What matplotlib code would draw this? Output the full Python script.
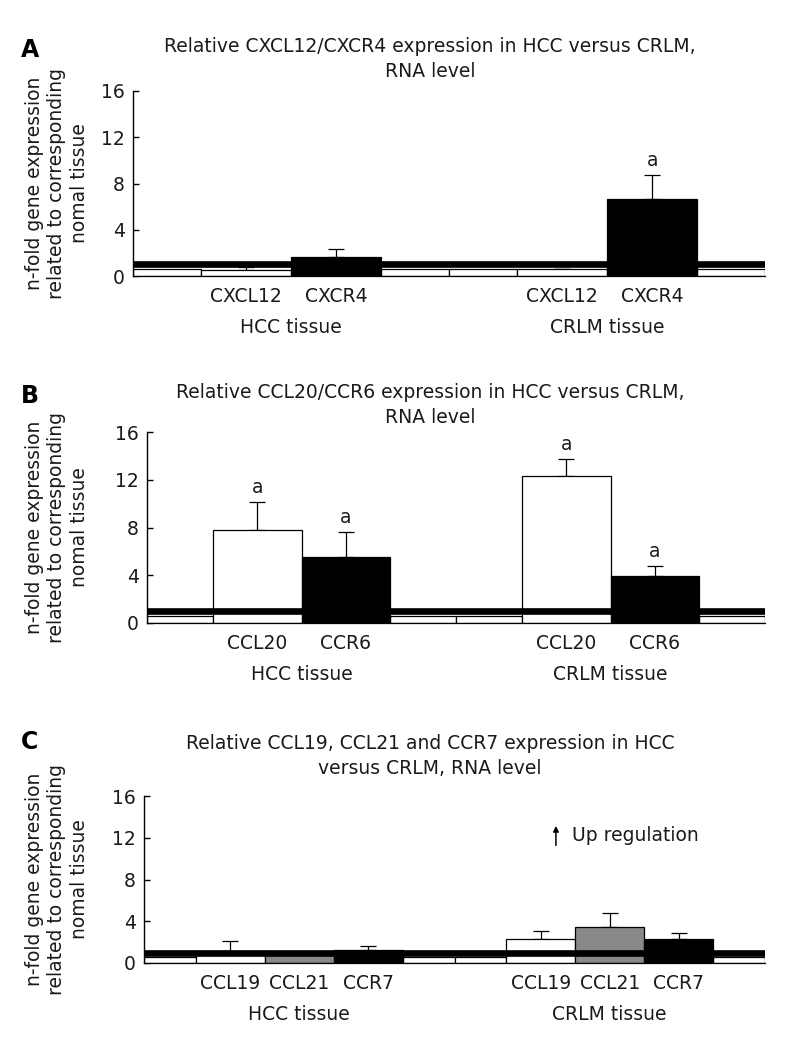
import numpy as np
import matplotlib
matplotlib.use("Agg")
import matplotlib.pyplot as plt
from matplotlib.patches import Rectangle

plt.rcParams['font.family'] = 'DejaVu Sans'

###
# Data
###

groups = ["HCC tissue", "CRLM tissue"]
ylabel = "n-fold gene expression\nrelated to corresponding\nnomal tissue"

# panel A
genes_a = ["CXCL12", "CXCR4"]
colors_a = ["white", "black"]
hcc_a = [0.5, 1.65]
hcc_err_a = [0.3, 0.7]
crlm_a = [0.6, 6.7]
crlm_err_a = [0.0, 2.0]
hcc_sig_a = [False, False]
crlm_sig_a = [False, True]
title_a = "Relative CXCL12/CXCR4 expression in HCC versus CRLM,\nRNA level"

# panel B
genes_b = ["CCL20", "CCR6"]
colors_b = ["white", "black"]
hcc_b = [7.8, 5.5]
hcc_err_b = [2.3, 2.1]
crlm_b = [12.3, 3.9]
crlm_err_b = [1.4, 0.85]
hcc_sig_b = [True, True]
crlm_sig_b = [True, True]
title_b = "Relative CCL20/CCR6 expression in HCC versus CRLM,\nRNA level"

# panel C
genes_c = ["CCL19", "CCL21", "CCR7"]
colors_c = ["white", "#888888", "black"]
hcc_c = [1.15, 0.9, 1.2]
hcc_err_c = [0.95, 0.0, 0.45]
crlm_c = [2.3, 3.45, 2.3]
crlm_err_c = [0.8, 1.35, 0.55]
hcc_sig_c = [False, False, False]
crlm_sig_c = [False, False, False]
title_c = "Relative CCL19, CCL21 and CCR7 expression in HCC\nversus CRLM, RNA level"

GAP = 0.75     # empty slot at each end of a group (in bar widths)
STRIP = 0.6    # height of the empty white slots
FS = 13.5
TXT = '#1a1a1a'

W, H = 800, 1055
fig = plt.figure(figsize=(W / 100, H / 100), dpi=100)


def px_axes(left, right, top, bottom):
    # axes rect from pixel coords of the reference
    return fig.add_axes([left / W, 1 - bottom / H, (right - left) / W, (bottom - top) / H])


def draw_panel(ax, genes, colors, vals, errs, sigs, title, letter, title_y, letter_y):
    n = len(genes)
    span = n + 2 * GAP
    centers = []
    for g in range(2):
        x0 = g * span
        # white empty slots at the start and end of each group
        for xs in (x0, x0 + GAP + n):
            ax.add_patch(Rectangle((xs, 0), GAP, STRIP, facecolor='white',
                                   edgecolor='black', lw=0.9, zorder=2))
        xc = x0 + GAP + 0.5 + np.arange(n)
        ax.bar(xc, vals[g], width=1, color=colors, edgecolor='black', lw=0.9, zorder=2)
        ax.errorbar(xc, vals[g], yerr=[np.zeros(n), errs[g]], fmt='none', ecolor='black',
                    elinewidth=0.9, capsize=6, capthick=0.9, zorder=1)
        for x, v, e, s in zip(xc, vals[g], errs[g], sigs[g]):
            if s:
                ax.text(x, v + e + 0.45, "a", ha='center', va='bottom', fontsize=FS, color=TXT)
        # group label
        ax.annotate(groups[g], xy=(x0 + span / 2, 0), xycoords=('data', 'axes fraction'),
                    xytext=(0, -37), textcoords='offset points', ha='center', va='center',
                    fontsize=FS, color=TXT)
        centers.extend(xc)

    # reference line at 1 (normal tissue)
    ax.axhline(1, color='black', lw=4.8, zorder=3)

    ax.set_xlim(0, 2 * span)
    ax.set_ylim(0, 16)
    ax.set_yticks([0, 4, 8, 12, 16])
    ax.set_xticks(centers)
    ax.set_xticklabels(genes * 2, fontsize=FS, color=TXT)
    ax.tick_params(axis='x', length=0, pad=8)
    ax.tick_params(axis='y', direction='in', length=4, width=1, labelsize=FS, pad=6,
                   labelcolor=TXT)
    for side in ('top', 'right'):
        ax.spines[side].set_visible(False)
    ax.spines['left'].set_linewidth(1)
    ax.spines['bottom'].set_linewidth(0.9)

    # y label and titles in figure pixels
    bb = ax.get_position()
    fig.text(57 / W, (bb.y0 + bb.y1) / 2, ylabel, rotation=90, ha='center', va='center',
             fontsize=FS, multialignment='center', linespacing=1.22, color=TXT)
    fig.text(430 / W, 1 - title_y / H, title, ha='center', va='center',
             fontsize=FS, multialignment='center', linespacing=1.38, color=TXT)
    fig.text(30 / W, 1 - letter_y / H, letter, ha='center', va='center',
             fontsize=17, fontweight='bold', color='black')
    return ax


ax_a = px_axes(133, 765, 91, 276)
draw_panel(ax_a, genes_a, colors_a, [hcc_a, crlm_a], [hcc_err_a, crlm_err_a],
           [hcc_sig_a, crlm_sig_a], title_a, "A", 59, 50)

ax_b = px_axes(147, 765, 432, 623)
draw_panel(ax_b, genes_b, colors_b, [hcc_b, crlm_b], [hcc_err_b, crlm_err_b],
           [hcc_sig_b, crlm_sig_b], title_b, "B", 405, 396)

ax_c = px_axes(144, 765, 796, 963)
draw_panel(ax_c, genes_c, colors_c, [hcc_c, crlm_c], [hcc_err_c, crlm_err_c],
           [hcc_sig_c, crlm_sig_c], title_c, "C", 756, 742)

# up-regulation legend in panel C
ax_c.annotate("", xy=(5.97, 13.4), xytext=(5.97, 11.0),
              arrowprops=dict(arrowstyle='-|>', color='black', lw=1.1, mutation_scale=8))
ax_c.text(6.2, 12.25, "Up regulation", ha='left', va='center', fontsize=FS, color=TXT)

plt.savefig('out.png', dpi=100)
